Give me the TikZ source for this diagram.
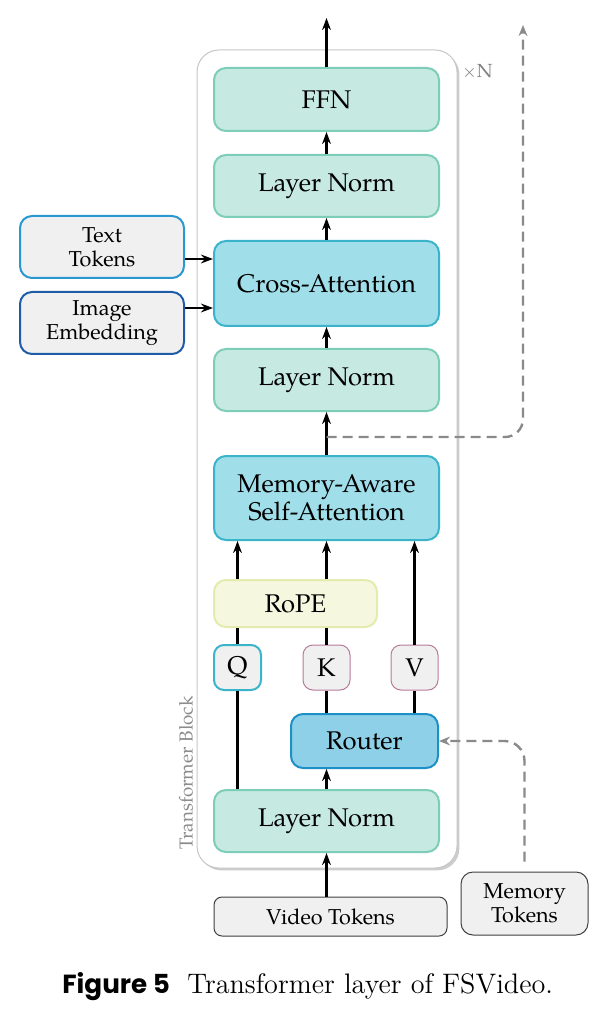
\documentclass[tikz,border=0pt]{standalone}
\usepackage{fontspec}
\usetikzlibrary{arrows.meta,shadows}
\newfontfamily\pal[Extension=.otf,UprightFont=*-regular]{texgyrepagella}
\newfontfamily\capsans{Poppins}
\definecolor{mintfill}{HTML}{C6E9E2}
\definecolor{mintdraw}{HTML}{7ECDB8}
\definecolor{cyanfill}{HTML}{A0DEE9}
\definecolor{cyandraw}{HTML}{3BB4CB}
\definecolor{routfill}{HTML}{8ED0E8}
\definecolor{routdraw}{HTML}{1E90C8}
\definecolor{ropefill}{HTML}{F5F8DE}
\definecolor{ropedraw}{HTML}{E3ECAE}
\definecolor{tokfill}{HTML}{F0F0F0}
\definecolor{kvdraw}{HTML}{B87A9A}
\definecolor{textdraw}{HTML}{2A98D0}
\definecolor{imgdraw}{HTML}{1E5CA8}
\definecolor{dashgray}{HTML}{8A8A8A}
\tikzset{
  box/.style={rounded corners=6pt, line width=1pt, inner sep=0pt, align=center, font=\pal\fontsize{12.8}{15}\selectfont},
  mint/.style={box, fill=mintfill, draw=mintdraw},
  cyanbox/.style={box, fill=cyanfill, draw=cyandraw},
  tok/.style={box, fill=tokfill, line width=0.5pt, font=\pal\fontsize{10.8}{13}\selectfont},
  arr/.style={line width=1.05pt, -{Stealth[length=6pt,width=4.4pt]}},
  ln/.style={line width=1.05pt},
  dasharr/.style={line width=1.2pt, draw=dashgray, dash pattern=on 5pt off 3pt, -{Stealth[length=5.5pt,width=4.4pt]}},
}
\begin{document}
\begin{tikzpicture}[x=0.5pt,y=-0.5pt]
\useasboundingbox (0,0) rectangle (606,1015);
% outer block
\node[draw=black!22, line width=0.5pt, fill=white, rounded corners=11pt,
  drop shadow={shadow xshift=1.2pt, shadow yshift=-1.2pt, opacity=0.4},
  minimum width=130pt, minimum height=409pt, inner sep=0pt] (block) at (327,459) {};
\node[text=black!50, font=\pal\fontsize{9.5}{11}\selectfont, anchor=west, inner sep=0pt] (xn) at (462,72) {$\times$N};
\node[text=black!45, font=\pal\fontsize{9.4}{11}\selectfont, rotate=90] (tb) at (186,773) {Transformer Block};
% boxes
\node[mint, minimum width=112.5pt, minimum height=31.5pt] (ffn) at (326.5,99.5) {FFN};
\node[mint, minimum width=112.5pt, minimum height=31pt] (ln2) at (326.5,186) {Layer Norm};
\node[cyanbox, minimum width=112.5pt, minimum height=42.5pt] (cross) at (326.5,283.5) {Cross-Attention};
\node[mint, minimum width=112.5pt, minimum height=31pt] (ln1) at (326.5,380) {Layer Norm};
\node[cyanbox, minimum width=112.5pt, minimum height=42pt] (masa) at (326.5,498) {Memory-Aware\\[-1pt]Self-Attention};
\node[box, fill=ropefill, draw=ropedraw, minimum width=81.5pt, minimum height=23.5pt] (rope) at (295.5,603.5) {RoPE};
\node[box, fill=tokfill, draw=cyandraw, rounded corners=5pt, minimum width=23.5pt, minimum height=22.5pt] (q) at (237.5,667.5) {Q};
\node[box, fill=tokfill, draw=kvdraw, line width=0.5pt, rounded corners=5pt, minimum width=23.5pt, minimum height=22.5pt] (k) at (326.5,667.5) {K};
\node[box, fill=tokfill, draw=kvdraw, line width=0.5pt, rounded corners=5pt, minimum width=23.5pt, minimum height=22.5pt] (v) at (414.5,667.5) {V};
\node[box, fill=routfill, draw=routdraw, minimum width=73.5pt, minimum height=27pt] (router) at (364.5,741) {Router};
\node[mint, minimum width=112.5pt, minimum height=31pt] (ln0) at (326.5,821) {Layer Norm};
\node[tok, draw=black!75, minimum width=116.5pt, minimum height=19.5pt, rounded corners=4pt] (video) at (330.5,916.5) {Video Tokens};
\node[tok, draw=black!75, minimum width=63.5pt, minimum height=31.5pt, rounded corners=6pt] (memory) at (524.5,903.5) {Memory\\[-1pt]Tokens};
\node[tok, fill=tokfill, draw=textdraw, line width=1pt, minimum width=82pt, minimum height=31pt] (text) at (102,247) {Text\\[-1pt]Tokens};
\node[tok, fill=tokfill, draw=imgdraw, line width=1pt, minimum width=82pt, minimum height=31pt] (img) at (102,323) {Image\\[-1pt]Embedding};
% coordinates
\coordinate (top) at (326.5,18);
\coordinate (dtop) at (523,25);
\coordinate (tap) at (326.5,437);
% main arrows
\draw[arr] (ffn.north) -- (top);
\draw[arr] (ln2.north) -- (ffn.south);
\draw[arr] (cross.north) -- (ln2.south);
\draw[arr] (ln1.north) -- (cross.south);
\draw[arr] (masa.north) -- (ln1.south);
\draw[arr] (text.east |- 0,259) -- (cross.west |- 0,259);
\draw[arr] (img.east |- 0,308) -- (cross.west |- 0,308);
\draw[dasharr, rounded corners=9pt] (tap) -| (dtop);
% Q K V
\draw[ln] (q.south |- ln0.north) -- (q.south);
\draw[ln] (q.north) -- (q.north |- rope.south);
\draw[arr] (q.north |- rope.north) -- (q.north |- masa.south);
\draw[ln] (router.north -| k.south) -- (k.south);
\draw[ln] (k.north) -- (k.north |- rope.south);
\draw[arr] (k.north |- rope.north) -- (k.north |- masa.south);
\draw[ln] (router.north -| v.south) -- (v.south);
\draw[arr] (v.north) -- (v.north |- masa.south);
\draw[arr] (ln0.north -| k.south) -- (router.south -| k.south);
\draw[arr] (video.north -| ln0.south) -- (ln0.south);
\draw[dasharr, rounded corners=10pt, shorten <=5pt] (memory.north) |- (router.east);
% caption
\node[anchor=base west, inner sep=0pt, font=\capsans\bfseries\fontsize{13.1}{15}\selectfont] (figlab) at (62,993) {Figure 5};
\node[anchor=base west, inner sep=0pt, font=\fontsize{14.1}{16}\selectfont] (cap) at (187,993) {Transformer layer of FSVideo.};
\end{tikzpicture}
\end{document}
